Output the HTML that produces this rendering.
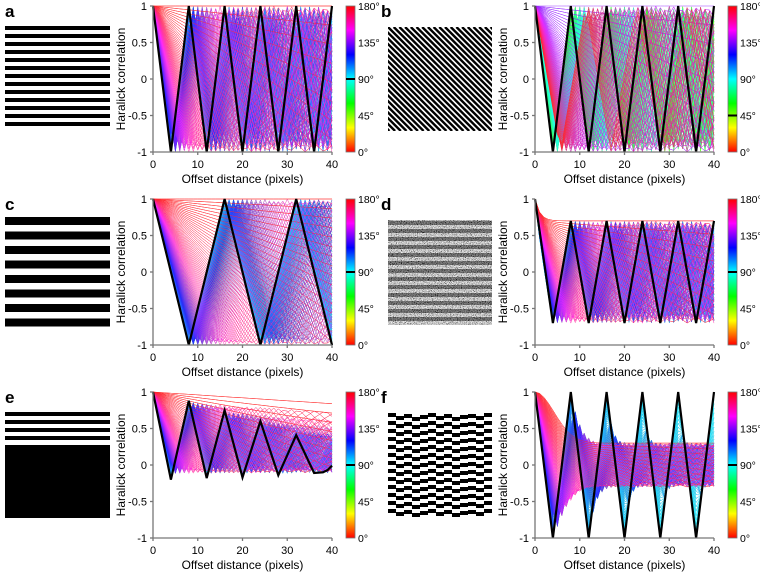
<!DOCTYPE html>
<html><head><meta charset="utf-8">
<style>
html,body{margin:0;padding:0;background:#fff;}
body{width:760px;height:572px;overflow:hidden;font-family:"Liberation Sans",sans-serif;}
svg text{font-family:"Liberation Sans",sans-serif;}
</style></head>
<body>
<svg id="fig" width="760" height="572" viewBox="0 0 760 572" xmlns="http://www.w3.org/2000/svg">
<defs>
<linearGradient id="cbgrad" x1="0" y1="1" x2="0" y2="0">
<stop offset="0" stop-color="hsl(0,100%,50%)"/>
<stop offset="0.1667" stop-color="hsl(60,100%,50%)"/>
<stop offset="0.3333" stop-color="hsl(120,100%,50%)"/>
<stop offset="0.5" stop-color="hsl(180,100%,50%)"/>
<stop offset="0.6667" stop-color="hsl(240,100%,50%)"/>
<stop offset="0.8333" stop-color="hsl(300,100%,50%)"/>
<stop offset="1" stop-color="hsl(360,100%,50%)"/>
</linearGradient>
<filter id="noise" x="0" y="0" width="1" height="1">
<feTurbulence type="fractalNoise" baseFrequency="1.2" numOctaves="1" seed="3"/>
<feColorMatrix type="matrix" values="0.33 0.33 0.33 0 0  0.33 0.33 0.33 0 0  0.33 0.33 0.33 0 0  0 0 0 0 1"/>
<feComponentTransfer>
<feFuncR type="linear" slope="4" intercept="-1.5"/>
<feFuncG type="linear" slope="4" intercept="-1.5"/>
<feFuncB type="linear" slope="4" intercept="-1.5"/>
</feComponentTransfer>
</filter>
</defs>
</svg>
<script>
// ---- data ----
const distances = [0,1,2,3,4,5,6,7,8,9,10,11,12,13,14,15,16,17,18,19,20,21,22,23,24,25,26,27,28,29,30,31,32,33,34,35,36,37,38,39,40];
const angles = [];
for (let a = 0; a <= 180; a += 0.75) angles.push(a);
const yTicks = [1, 0.5, 0, -0.5, -1];
const yTickLabels = ['1', '0.5', '0', '-0.5', '-1'];
const xTicks = [0, 10, 20, 30, 40];
const cbTicks = ['0°', '45°', '90°', '135°', '180°'];
const panelLetters = ['a','b','c','d','e','f'];
const blackAngles = [90, 45, 90, 90, 90, 90];
const blackA_x = [0,4,8,12,16,20,24,28,32,36,40];
const blackA_y = [1,-1,1,-1,1,-1,1,-1,1,-1,1];
const blackB_x = [0,4,8,12,16,20,24,28,32,36,40];
const blackB_y = [1,-1,1,-1,1,-1,1,-1,1,-1,1];
const blackC_x = [0,8,16,24,32,40];
const blackC_y = [1,-1,1,-1,1,-1];
const blackD_x = [0,4,8,12,16,20,24,28,32,36,40];
const blackD_y = [1,-0.7,0.7,-0.7,0.7,-0.7,0.7,-0.7,0.7,-0.7,0.7];
const blackE_x = [0,4,8,12,16,20,24,28,32,36,38,39,40];
const blackE_y = [1,-0.2,0.88,-0.18,0.75,-0.17,0.6,-0.14,0.41,-0.11,-0.1,-0.07,-0.01];
const blackF_x = [0,4,8,12,16,20,24,28,32,36,40];
const blackF_y = [1,-1,1,-1,1,-1,1,-1,1,-1,1];
const blackXs = [blackA_x, blackB_x, blackC_x, blackD_x, blackE_x, blackF_x];
const blackYs = [blackA_y, blackB_y, blackC_y, blackD_y, blackE_y, blackF_y];

function tri(u){ const f = u - Math.floor(u); return 1 - 4*Math.min(f, 1-f); }
const R = Math.PI/180;
const models = [
  (d,t)=> tri(d*Math.abs(Math.sin(t*R))/8),
  (d,t)=> tri(d*Math.abs(Math.cos((t-45)*R))/8),
  (d,t)=> tri(d*Math.abs(Math.sin(t*R))/16),
  (d,t)=> 0.7*tri(d*Math.abs(Math.sin(t*R))/8) + 0.3*Math.exp(-d*0.9),
  (d,t)=> { const x=d*Math.abs(Math.sin(t*R)), h=d*Math.abs(Math.cos(t*R));
            const p=1-0.016*x, q=-0.12; return (q+(p-q)*(tri(x/8)+1)/2)*(1-0.004*h); },
  (d,t)=> { const x=d*Math.abs(Math.sin(t*R)), c=Math.abs(Math.cos(t*R));
            return tri(x/8)*(0.3+0.7*Math.exp(-Math.pow(d*c/6,2))); }
];

const NS = 'http://www.w3.org/2000/svg';
const svg = document.getElementById('fig');
function el(tag, attrs, parent){ const e=document.createElementNS(NS,tag); for(const k in attrs) e.setAttribute(k,attrs[k]); (parent||svg).appendChild(e); return e; }

const colX = [153, 535], rowY = [6, 199, 392], W = 179, H = 146;

for (let p = 0; p < 6; p++) {
  const c = p % 2, r = Math.floor(p/2);
  const X0 = colX[c], Y0 = rowY[r];
  const sx = v => X0 + v/40*W;
  const sy = v => Y0 + (1 - v)/2*H;
  const g = el('g', {});
  
  
  const lx = c === 0 ? 5 : 381;
  const lt = el('text', {x: lx, y: Y0 + 11, 'font-size': 17, 'font-weight': 'bold', fill: '#000'}, g);
  lt.textContent = panelLetters[p];
  
  
  const lines = el('g', {'stroke-width': 0.45, fill: 'none', opacity: 0.85}, g);
  
  
  angles.forEach(t => {
    const pts = distances.map(d => sx(d).toFixed(1) + ',' + sy(Math.max(-1, Math.min(1, models[p](d, t)))).toFixed(1)).join(' ');
    const pl = el('polyline', {points: pts, stroke: 'hsl(' + (2*t) + ',100%,50%)'}, lines);
    
    
  });
  const bpts = blackXs[p].map((d,i) => sx(d).toFixed(1) + ',' + sy(blackYs[p][i]).toFixed(1)).join(' ');
  const bl = el('polyline', {points: bpts, stroke: '#000', 'stroke-width': 2.2, fill: 'none', 'stroke-linejoin': 'miter'}, g);
  
  
  const ax = el('g', {stroke: '#777', 'stroke-width': 1.3}, g);
  
  
  el('line', {x1: X0, y1: Y0, x2: X0, y2: Y0 + H}, ax);
  el('line', {x1: X0, y1: Y0 + H, x2: X0 + W, y2: Y0 + H}, ax);
  yTicks.forEach((v,i) => {
    el('line', {x1: X0 - 3, y1: sy(v), x2: X0, y2: sy(v)}, ax);
    const t = el('text', {x: X0 - 6, y: sy(v) + 4, 'text-anchor': 'end', 'font-size': 11, fill: '#000', stroke: 'none'}, g);
    t.textContent = yTickLabels[i];
    
    
  });
  xTicks.forEach(v => {
    el('line', {x1: sx(v), y1: Y0 + H, x2: sx(v), y2: Y0 + H + 3}, ax);
    const t = el('text', {x: sx(v), y: Y0 + H + 16, 'text-anchor': 'middle', 'font-size': 11, fill: '#000'}, g);
    t.textContent = v;
    
    
  });
  const xl = el('text', {x: X0 + W/2, y: Y0 + H + 31, 'text-anchor': 'middle', 'font-size': 12, fill: '#000'}, g);
  xl.textContent = 'Offset distance (pixels)';
  
  
  const yl = el('text', {x: 0, y: 0, 'text-anchor': 'middle', 'font-size': 12, fill: '#000', transform: 'translate(' + (X0 - 28) + ',' + (Y0 + H/2) + ') rotate(-90)'}, g);
  yl.textContent = 'Haralick correlation';
  
  
  const cbx = X0 + 193;
  const cb = el('rect', {x: cbx, y: Y0, width: 9, height: H, fill: 'url(#cbgrad)', stroke: '#777', 'stroke-width': 0.8}, g);
  
  
  const by = Y0 + H - blackAngles[p]/180*H;
  const mk = el('line', {x1: cbx, y1: by, x2: cbx + 9, y2: by, stroke: '#000', 'stroke-width': 2}, g);
  
  
  cbTicks.forEach((s,i) => {
    const yy = Y0 + H - i/4*H;
    const t = el('text', {x: cbx + 12, y: yy + 4, 'font-size': 10.5, fill: '#000'}, g);
    t.textContent = s;
    
    
  });
}

function img(name){ const g = el('g', {});   return g; }
let ga = img('texture-a');
for (let i = 0; i < 13; i++) el('rect', {x: 5, y: 26 + i*8, width: 105, height: 4, fill: '#000'}, ga);
let gb = img('texture-b');
const cp = el('clipPath', {id: 'clipb'}); el('rect', {x: 388, y: 27, width: 104, height: 104}, cp);
const gbc = el('g', {'clip-path': 'url(#clipb)'}, gb);
for (let i = -20; i < 20; i++) { const x = 388 + i*5.7; el('line', {x1: x, y1: 27, x2: x + 104, y2: 131, stroke: '#000', 'stroke-width': 2.4}, gbc); }
let gc = img('texture-c');
for (let i = 0; i < 8; i++) el('rect', {x: 5, y: 217 + i*14.5, width: 105, height: 8, fill: '#000'}, gc);
let gd = img('texture-d');
el('rect', {x: 388, y: 220, width: 104, height: 105, fill: '#888', filter: 'url(#noise)'}, gd);
for (let i = 0; i < 13; i++) el('rect', {x: 388, y: 221 + i*8, width: 104, height: 4, fill: '#000', opacity: 0.4}, gd);
for (let i = 0; i < 13; i++) el('rect', {x: 388, y: 225 + i*8, width: 104, height: 4, fill: '#fff', opacity: 0.2}, gd);
let ge = img('texture-e');
for (let i = 0; i < 4; i++) el('rect', {x: 5, y: 412 + i*8, width: 105, height: 4, fill: '#000'}, ge);
el('rect', {x: 5, y: 445, width: 105, height: 73, fill: '#000'}, ge);
let gf = img('texture-f');
const fshift = [0,3,1,4,2,0,3,1,4,2,1,3,0];
for (let cI = 0; cI < 13; cI++) for (let i = 0; i < 13; i++) {
  el('rect', {x: 388 + cI*8, y: 413 + i*8 + fshift[cI], width: 8, height: 4, fill: '#000'}, gf);
}
</script>
</body></html>
